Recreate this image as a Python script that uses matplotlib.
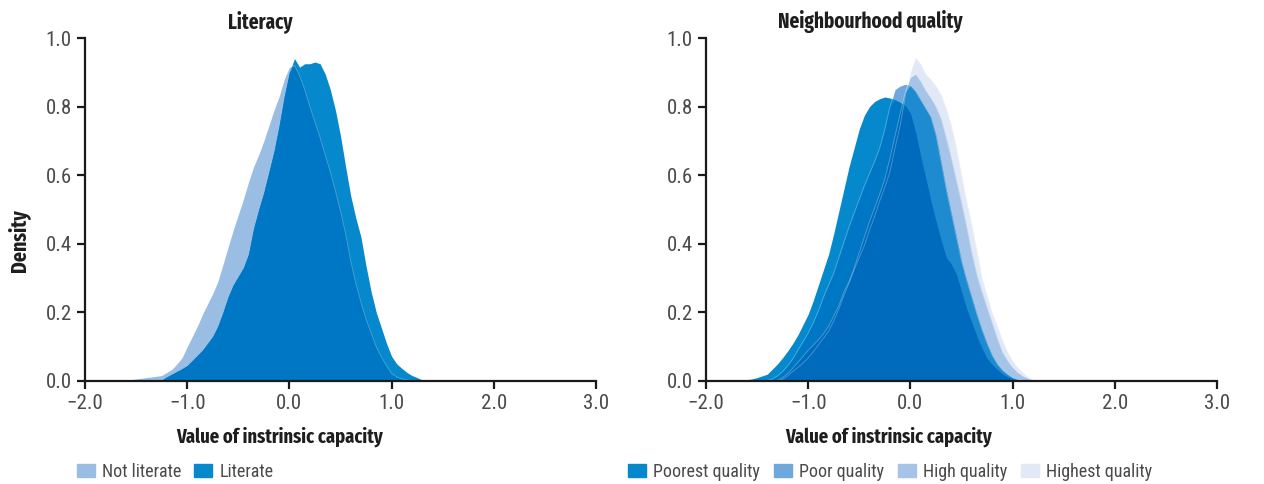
import numpy as np
import matplotlib
matplotlib.use("Agg")
import matplotlib.pyplot as plt
from matplotlib.patches import Patch

plt.rcParams['font.family'] = ['Roboto Condensed', 'PT Sans Narrow', 'DejaVu Sans']
bold_family = ['Fira Sans Extra Condensed', 'Roboto Condensed', 'DejaVu Sans']

# Density estimates of intrinsic capacity, literacy groups
lit_x = [-1.70, -1.65, -1.60, -1.55, -1.50, -1.45, -1.40, -1.35, -1.30, -1.25,
         -1.20, -1.15, -1.10, -1.05, -1.00, -0.95, -0.90, -0.85, -0.80, -0.75,
         -0.70, -0.65, -0.60, -0.55, -0.50, -0.45, -0.40, -0.35, -0.30, -0.25,
         -0.20, -0.15, -0.10, -0.05, 0.00, 0.05, 0.10, 0.15, 0.20, 0.25,
         0.30, 0.35, 0.40, 0.45, 0.50, 0.55, 0.60, 0.65, 0.70, 0.75,
         0.80, 0.85, 0.90, 0.95, 1.00, 1.05, 1.10, 1.15, 1.20, 1.25,
         1.30, 1.35]
not_literate = [0.000, 0.000, 0.002, 0.004, 0.006, 0.008, 0.010, 0.012, 0.014, 0.016,
                0.025, 0.034, 0.050, 0.068, 0.100, 0.130, 0.160, 0.195, 0.225, 0.255,
                0.290, 0.340, 0.390, 0.440, 0.485, 0.530, 0.580, 0.625, 0.660, 0.700,
                0.745, 0.790, 0.830, 0.880, 0.915, 0.920, 0.890, 0.850, 0.800, 0.755,
                0.710, 0.660, 0.610, 0.555, 0.495, 0.430, 0.350, 0.285, 0.230, 0.180,
                0.140, 0.100, 0.070, 0.045, 0.022, 0.012, 0.006, 0.003, 0.002, 0.001,
                0.000, 0.000]
literate = [0.000, 0.000, 0.000, 0.000, 0.000, 0.000, 0.000, 0.000, 0.000, 0.003,
            0.012, 0.020, 0.028, 0.036, 0.045, 0.060, 0.075, 0.090, 0.110, 0.130,
            0.160, 0.200, 0.245, 0.280, 0.305, 0.330, 0.370, 0.445, 0.500, 0.550,
            0.610, 0.670, 0.745, 0.830, 0.900, 0.940, 0.915, 0.925, 0.925, 0.930,
            0.925, 0.895, 0.850, 0.790, 0.715, 0.625, 0.540, 0.475, 0.420, 0.335,
            0.260, 0.200, 0.155, 0.110, 0.072, 0.050, 0.037, 0.025, 0.016, 0.010,
            0.003, 0.000]

# Density estimates by neighbourhood quality
nb_x = [-1.80, -1.75, -1.70, -1.65, -1.60, -1.55, -1.50, -1.45, -1.40, -1.35,
        -1.30, -1.25, -1.20, -1.15, -1.10, -1.05, -1.00, -0.95, -0.90, -0.85,
        -0.80, -0.75, -0.70, -0.65, -0.60, -0.55, -0.50, -0.45, -0.40, -0.35,
        -0.30, -0.25, -0.20, -0.15, -0.10, -0.05, 0.00, 0.05, 0.10, 0.15,
        0.20, 0.25, 0.30, 0.35, 0.40, 0.45, 0.50, 0.55, 0.60, 0.65,
        0.70, 0.75, 0.80, 0.85, 0.90, 0.95, 1.00, 1.05, 1.10, 1.15,
        1.20, 1.25, 1.30]
poorest = [0.000, 0.001, 0.002, 0.003, 0.004, 0.006, 0.010, 0.015, 0.020, 0.035,
           0.050, 0.068, 0.088, 0.110, 0.135, 0.165, 0.195, 0.235, 0.280, 0.325,
           0.370, 0.430, 0.495, 0.560, 0.625, 0.680, 0.735, 0.775, 0.800, 0.815,
           0.823, 0.828, 0.825, 0.820, 0.812, 0.803, 0.780, 0.725, 0.655, 0.590,
           0.525, 0.465, 0.410, 0.360, 0.340, 0.310, 0.260, 0.210, 0.170, 0.130,
           0.095, 0.065, 0.048, 0.033, 0.020, 0.012, 0.006, 0.000, 0.000, 0.000,
           0.000, 0.000, 0.000]
poor = [0.000, 0.000, 0.000, 0.000, 0.000, 0.000, 0.000, 0.000, 0.002, 0.006,
        0.015, 0.028, 0.045, 0.065, 0.090, 0.115, 0.140, 0.170, 0.205, 0.245,
        0.280, 0.315, 0.360, 0.405, 0.450, 0.490, 0.530, 0.570, 0.605, 0.640,
        0.680, 0.735, 0.800, 0.850, 0.860, 0.865, 0.862, 0.845, 0.820, 0.795,
        0.770, 0.717, 0.640, 0.560, 0.490, 0.420, 0.350, 0.295, 0.245, 0.195,
        0.150, 0.110, 0.075, 0.050, 0.032, 0.020, 0.010, 0.005, 0.002, 0.000,
        0.000, 0.000, 0.000]
high = [0.000, 0.000, 0.000, 0.000, 0.000, 0.000, 0.000, 0.000, 0.000, 0.000,
        0.002, 0.010, 0.022, 0.038, 0.055, 0.072, 0.090, 0.105, 0.120, 0.138,
        0.160, 0.190, 0.220, 0.260, 0.290, 0.330, 0.375, 0.420, 0.465, 0.505,
        0.545, 0.590, 0.650, 0.715, 0.780, 0.843, 0.885, 0.895, 0.875, 0.847,
        0.826, 0.800, 0.765, 0.710, 0.650, 0.585, 0.520, 0.450, 0.375, 0.310,
        0.260, 0.215, 0.170, 0.125, 0.085, 0.060, 0.040, 0.025, 0.015, 0.008,
        0.003, 0.000, 0.000]
highest = [0.000, 0.000, 0.000, 0.000, 0.000, 0.000, 0.000, 0.000, 0.000, 0.000,
           0.000, 0.005, 0.015, 0.028, 0.040, 0.052, 0.068, 0.085, 0.105, 0.125,
           0.145, 0.175, 0.210, 0.250, 0.285, 0.325, 0.360, 0.395, 0.440, 0.480,
           0.525, 0.565, 0.610, 0.680, 0.745, 0.830, 0.900, 0.944, 0.925, 0.895,
           0.880, 0.860, 0.835, 0.795, 0.745, 0.680, 0.600, 0.524, 0.455, 0.380,
           0.300, 0.250, 0.200, 0.160, 0.120, 0.085, 0.060, 0.040, 0.025, 0.012,
           0.005, 0.002, 0.000]

xticks = [-2, -1, 0, 1, 2, 3]
xtick_labels = ['\u22122.0', '\u22121.0', '0.0', '1.0', '2.0', '3.0']
yticks = [0.0, 0.2, 0.4, 0.6, 0.8, 1.0]
ytick_labels = ['0.0', '0.2', '0.4', '0.6', '0.8', '1.0']

c_light = '#99bde3'
c_mid = '#0589cc'
c_over = '#0077c4'
c_poor = '#6fa8dc'
c_high = '#a6c4e8'
c_highest = '#e2e9f6'
c_core = '#006bbd'
c_side = '#1e8bd0'
ink = '#1a1a1a'
grey = '#4a4a4a'

fig = plt.figure(figsize=(12.64, 4.84), dpi=100)
ax1 = fig.add_axes([85 / 1264, 103 / 484, 511 / 1264, 343 / 484])
ax2 = fig.add_axes([706 / 1264, 103 / 484, 511 / 1264, 343 / 484])


def style(ax, title, title_x, label_x):
    ax.set_xlim(-2, 3)
    ax.set_ylim(0, 1)
    for s in ['top', 'right']:
        ax.spines[s].set_visible(False)
    for s in ['left', 'bottom']:
        ax.spines[s].set_linewidth(1.6)
        ax.spines[s].set_color(ink)
    ax.set_xticks(xticks)
    ax.set_xticklabels(xtick_labels)
    ax.set_yticks(yticks)
    ax.set_yticklabels(ytick_labels)
    ax.tick_params(length=5.5, width=1.6, color=ink, labelsize=15,
                   labelcolor=grey, pad=4)
    ax.text(title_x, 1.047, title, transform=ax.transAxes, ha='center',
            va='center', fontsize=15, fontweight='bold', color='#1e1e1e',
            family=bold_family)
    ax.set_xlabel('Value of instrinsic capacity', fontsize=14.5,
                  fontweight='bold', color='#1e1e1e', family=bold_family)
    ax.xaxis.set_label_coords(label_x, -0.133)


def edge(ax, x, y):
    ax.plot(x, y, color='white', lw=0.6, alpha=0.3, zorder=2)


# Literacy
x = np.array(lit_x)
nl = np.array(not_literate)
lt = np.array(literate)
ax1.fill_between(x, 0, nl, color=c_light, lw=0, zorder=1)
ax1.fill_between(x, 0, lt, color=c_mid, lw=0, zorder=1)
ax1.fill_between(x, 0, np.minimum(nl, lt), color=c_over, lw=0, zorder=1)
edge(ax1, x, nl)
style(ax1, 'Literacy', 0.344, 0.38)
ax1.set_ylabel('Density', fontsize=15.5, fontweight='bold', color='#1e1e1e',
               family=bold_family)
ax1.yaxis.set_label_coords(-0.108, 0.41)

# Neighbourhood quality
x = np.array(nb_x)
q1 = np.array(poorest)
q2 = np.array(poor)
q3 = np.array(high)
q4 = np.array(highest)
ax2.fill_between(x, 0, q4, color=c_highest, lw=0, zorder=1)
ax2.fill_between(x, 0, q3, color=c_high, lw=0, zorder=1)
ax2.fill_between(x, 0, q2, color=c_poor, lw=0, zorder=1)
ax2.fill_between(x, 0, np.minimum(q2, q3), color=c_side, lw=0, zorder=1)
ax2.fill_between(x, 0, q1, color=c_mid, lw=0, zorder=1)
ax2.fill_between(x, 0, np.minimum(q1, q2), color=c_over, lw=0, zorder=1)
ax2.fill_between(x, 0, np.minimum(np.minimum(q1, q2), q3), color=c_core,
                 lw=0, zorder=1)
for q in (q2, q3, q4):
    edge(ax2, x, q)
style(ax2, 'Neighbourhood quality', 0.321, 0.358)

leg_kw = dict(frameon=False, fontsize=13, borderpad=0, borderaxespad=0,
              handlelength=1.0, handleheight=0.7, handletextpad=0.4,
              loc='center left')
l1 = fig.legend(handles=[Patch(color=c_light, label='Not literate'),
                         Patch(color=c_mid, label='Literate')],
                ncol=2, columnspacing=0.7,
                bbox_to_anchor=(77 / 1264, 12 / 484), **leg_kw)
l2 = fig.legend(handles=[Patch(color=c_mid, label='Poorest quality'),
                         Patch(color=c_poor, label='Poor quality'),
                         Patch(color=c_high, label='High quality'),
                         Patch(color=c_highest, label='Highest quality')],
                ncol=4, columnspacing=0.75,
                bbox_to_anchor=(628 / 1264, 12 / 484), **leg_kw)
for lg in (l1, l2):
    for t in lg.get_texts():
        t.set_color(grey)

fig.savefig('out.png', dpi=100)
